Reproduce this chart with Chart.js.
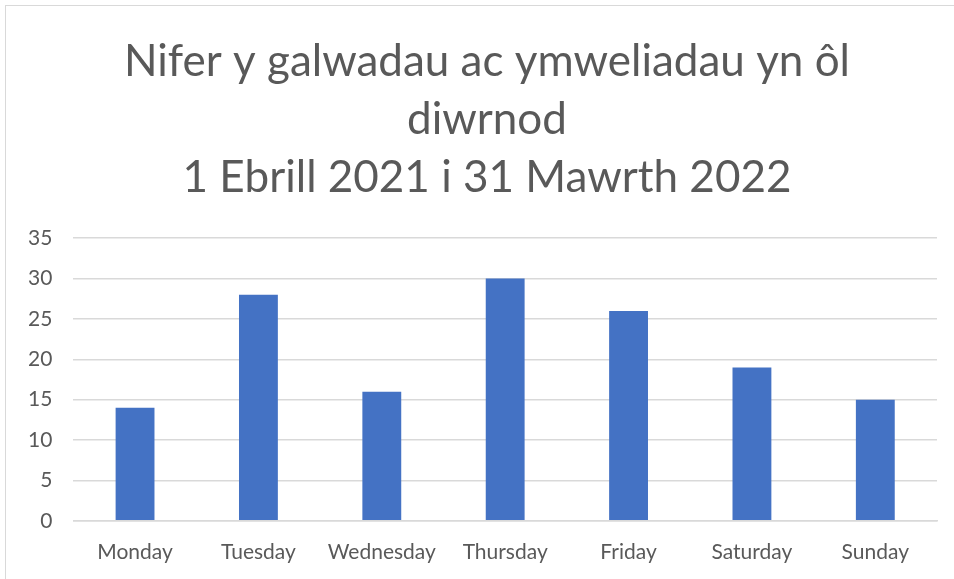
<!DOCTYPE html>
<html>
<head>
<meta charset="utf-8">
<script src="https://cdn.jsdelivr.net/npm/chart.js@4"></script>
<style>
  html, body { margin: 0; padding: 0; background: #fff; }
  #wrap { position: absolute; left: 5px; top: 5px; width: 949px; height: 574px;
          border-left: 1px solid #d9d9d9; border-top: 1px solid #d9d9d9; box-sizing: border-box; }
</style>
</head>
<body>
<div id="wrap"><canvas id="barChart"></canvas></div>
<script>
var days = ["Monday", "Tuesday", "Wednesday", "Thursday", "Friday", "Saturday", "Sunday"];
var counts = [14, 28, 16, 30, 26, 19, 15];
var titleLines = ["Nifer y galwadau ac ymweliadau yn ôl", "diwrnod", "1 Ebrill 2021 i 31 Mawrth 2022"];

// nudge the title a little to the right, like the original
var titleShift = {
  id: "titleShift",
  afterLayout: function (chart) {
    if (chart.titleBlock) {
      chart.titleBlock.left += 15;
      chart.titleBlock.right += 15;
    }
  },
};

document.addEventListener("DOMContentLoaded", function () {
  var ctx = document.getElementById("barChart").getContext("2d");
  var barChart = new Chart(ctx, {
    type: "bar",
    data: {
      labels: days,
      datasets: [
        {
          label: "Calls",
          data: counts,
          backgroundColor: "#4472C4",
          categoryPercentage: 1,
          barPercentage: 0.315,
        },
      ],
    },
    plugins: [titleShift],
    options: {
      responsive: true,
      maintainAspectRatio: false,
      animation: false,
      layout: { padding: { left: 1, right: 17, top: 8, bottom: -5 } },
      plugins: {
        legend: { display: false },
        tooltip: { enabled: false },
        title: {
          display: true,
          text: titleLines,
          color: "#595959",
          font: { family: "Lato", size: 44, weight: "normal", lineHeight: 1.32 },
          padding: { top: 19, bottom: 31 },
        },
      },
      scales: {
        y: {
          min: 0,
          max: 35,
          ticks: { stepSize: 5, color: "#595959", font: { family: "Lato", size: 21 }, padding: 21 },
          grid: { color: "#d9d9d9", drawTicks: false, lineWidth: 1.5 },
          border: { display: false },
        },
        x: {
          ticks: { color: "#595959", font: { family: "Lato", size: 21 }, padding: 19 },
          grid: { display: false, drawTicks: false },
          border: { color: "#d9d9d9", width: 1.5 },
        },
      },
    },
  });
});
</script>
</body>
</html>
